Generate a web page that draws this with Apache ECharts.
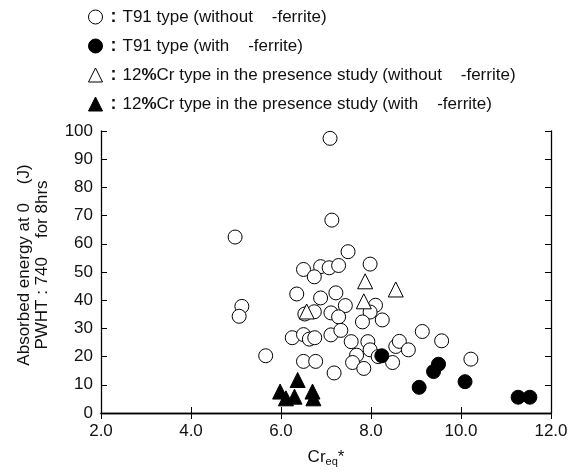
<!DOCTYPE html>
<html>
<head>
<meta charset="utf-8">
<script src="https://cdn.jsdelivr.net/npm/echarts@6/dist/echarts.min.js"></script>
<style>
  html, body { margin: 0; padding: 0; background: #fff; }
  #chart { width: 571px; height: 474px; }
</style>
</head>
<body>
<div id="chart"></div>
<script>
// T91 type, without delta-ferrite: [Cr_eq*, energy J]
const t91Without = [
  [7.09, 97.4], [7.13, 68.4], [4.98, 62.4], [7.49, 57.2], [7.98, 52.8],
  [6.50, 50.9], [6.88, 51.9], [7.07, 51.5], [7.28, 52.3], [6.74, 48.3],
  [6.35, 42.2], [6.88, 40.8], [7.22, 42.6], [7.43, 38.1], [8.10, 38.2],
  [5.13, 37.8], [5.07, 34.3], [6.53, 35.1], [6.74, 35.9], [7.11, 35.5],
  [7.28, 34.1], [7.98, 35.8], [7.81, 32.3], [8.25, 33.0], [6.25, 26.7],
  [6.50, 27.8], [6.63, 26.2], [6.75, 26.7], [7.11, 27.7], [7.33, 29.3],
  [7.56, 25.3], [7.93, 25.3], [7.98, 22.4], [5.66, 20.3], [7.68, 20.5],
  [7.59, 17.9], [7.84, 15.8], [6.50, 18.3], [6.77, 18.3], [7.18, 14.2],
  [8.16, 20.0], [8.48, 17.9], [8.55, 23.6], [8.63, 25.4], [8.83, 22.4],
  [9.14, 28.9], [9.57, 25.6], [10.22, 19.1]
];
// T91 type, with delta-ferrite
const t91With = [
  [8.24, 20.3], [9.07, 9.1], [9.39, 14.7], [9.50, 17.3],
  [10.09, 11.1], [11.27, 5.6], [11.53, 5.6]
];
// 12%Cr type, present study, without delta-ferrite
const crWithout = [
  [6.57, 36.0], [7.87, 46.7], [7.84, 39.6], [8.55, 43.8]
];
// 12%Cr type, present study, with delta-ferrite
const crWith = [
  [5.98, 7.6], [6.11, 5.2], [6.30, 5.8], [6.37, 11.7], [6.70, 7.6], [6.72, 5.2]
];

const seriesNames = [
  'T91 type (without    -ferrite)',
  'T91 type (with    -ferrite)',
  '12%Cr type in the presence study (without    -ferrite)',
  '12%Cr type in the presence study (with    -ferrite)'
];

const xTicks = [2, 4, 6, 8, 10, 12];
const yTicks = [0, 10, 20, 30, 40, 50, 60, 70, 80, 90, 100];

const FONT = '"Liberation Sans", Arial, sans-serif';
const INK = '#111';
const chart = echarts.init(document.getElementById('chart'));

const axisCommon = {
  axisLine: { show: true, lineStyle: { color: '#000', width: 1.3 } },
  axisTick: { show: true, inside: true, length: 6, lineStyle: { color: '#000', width: 1 } },
  splitLine: { show: false }
};

function legendFmt(name) {
  if (name.indexOf('12%') === 0) {
    return '{c|:}{t|12}{p|%}{t|' + name.slice(3) + '}';
  }
  return '{c|:}{t|' + name + '}';
}

chart.setOption({
  animation: false,
  backgroundColor: '#fff',
  legend: {
    orient: 'vertical',
    left: 83,
    top: 3,
    itemWidth: 14,
    itemHeight: 14,
    itemGap: 11,
    data: seriesNames,
    formatter: legendFmt,
    itemStyle: { borderWidth: 1 },
    textStyle: {
      fontFamily: FONT,
      fontSize: 17,
      color: INK,
      rich: {
        c: { fontFamily: FONT, fontSize: 18, fontWeight: 'bold', color: INK, padding: [0, 6, 0, 3] },
        p: { fontFamily: FONT, fontSize: 17, fontWeight: 'bold', color: INK },
        t: { fontFamily: FONT, fontSize: 17, color: INK }
      }
    }
  },
  grid: { left: 101, right: 20, top: 131, bottom: 61 },
  xAxis: [{
    type: 'value', min: 2, max: 12, interval: 2,
    name: '{a|Cr}{s|eq}{a|*}',
    nameLocation: 'middle',
    nameGap: 34,
    nameTextStyle: {
      rich: {
        a: { fontFamily: FONT, fontSize: 17, color: INK },
        s: { fontFamily: FONT, fontSize: 11, color: INK, verticalAlign: 'bottom', padding: [9, 0, 0, 0] }
      }
    },
    axisLabel: {
      fontFamily: FONT, fontSize: 17, color: INK, margin: 10,
      formatter: v => xTicks.includes(v) ? v.toFixed(1) : ''
    },
    ...axisCommon
  }, {
    type: 'value', min: 2, max: 12, interval: 2, position: 'top',
    axisLabel: { show: false },
    ...axisCommon
  }],
  yAxis: [{
    type: 'value', min: 0, max: 100, interval: 10,
    name: 'Absorbed energy at 0    (J)\nPWHT : 740    for 8hrs',
    nameLocation: 'middle',
    nameGap: 50,
    nameTextStyle: { fontFamily: FONT, fontSize: 17, color: INK, lineHeight: 18, padding: [0, 0, 0, 14] },
    axisLabel: {
      fontFamily: FONT, fontSize: 17, color: INK, margin: 8,
      formatter: v => yTicks.includes(v) ? String(v) : ''
    },
    ...axisCommon
  }, {
    type: 'value', min: 0, max: 100, interval: 10, position: 'right',
    axisLabel: { show: false },
    ...axisCommon
  }],
  series: [
    {
      name: seriesNames[0], type: 'scatter', data: t91Without,
      symbol: 'circle', symbolSize: 14,
      itemStyle: { color: '#fff', borderColor: '#000', borderWidth: 1, opacity: 1 }
    },
    {
      name: seriesNames[1], type: 'scatter', data: t91With,
      symbol: 'circle', symbolSize: 14,
      itemStyle: { color: '#000', borderColor: '#000', borderWidth: 1, opacity: 1 }
    },
    {
      name: seriesNames[2], type: 'scatter', data: crWithout,
      symbol: 'triangle', symbolSize: 15,
      itemStyle: { color: '#fff', borderColor: '#000', borderWidth: 1, opacity: 1 }
    },
    {
      name: seriesNames[3], type: 'scatter', data: crWith,
      symbol: 'triangle', symbolSize: 15,
      itemStyle: { color: '#000', borderColor: '#000', borderWidth: 1, opacity: 1 }
    }
  ]
});
</script>
</body>
</html>
